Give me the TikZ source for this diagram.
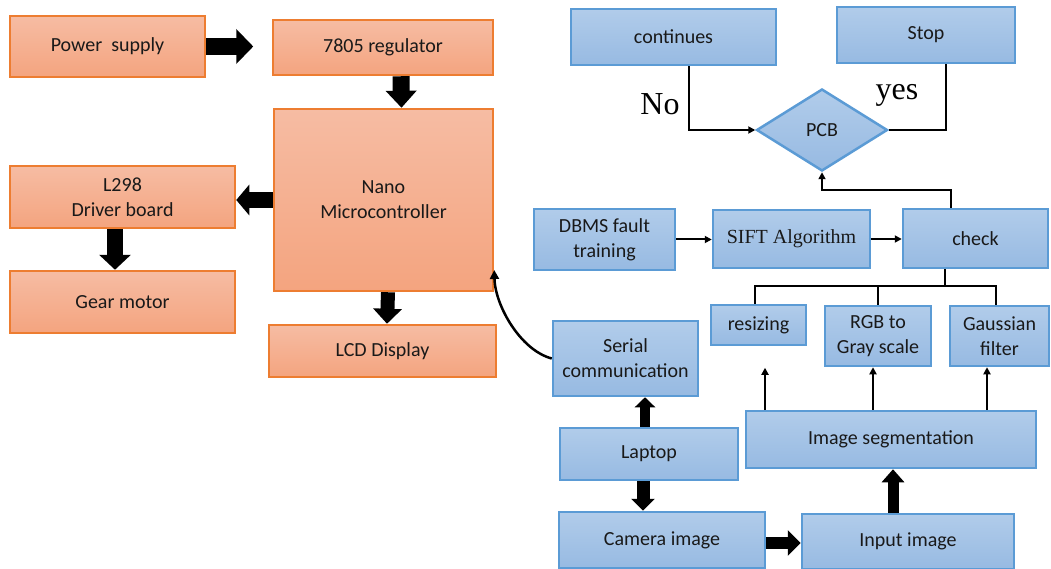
\documentclass[tikz,border=0pt]{standalone}
\usepackage{fontspec}
\setmainfont{Carlito}
\newfontfamily\tms{Liberation Serif}
\usetikzlibrary{arrows.meta,shapes.geometric,calc}
\definecolor{oborder}{HTML}{ED7D31}
\definecolor{otop}{HTML}{F6BCA3}
\definecolor{obot}{HTML}{F4A47F}
\definecolor{bborder}{HTML}{5B9BD5}
\definecolor{btop}{HTML}{B1CCEA}
\definecolor{bbot}{HTML}{97BAE2}
\tikzset{
  box/.style={rectangle, line width=2.5pt, inner sep=0pt, align=center,
    font=\fontsize{20}{25}\selectfont, text=black!90},
  obox/.style={box, draw=oborder, top color=otop, bottom color=obot},
  bbox/.style={box, draw=bborder, top color=btop, bottom color=bbot},
  arr/.style={line width=2pt, -{Triangle[length=7pt,width=7pt]}},
  ln/.style={line width=2pt},
  blk/.style n args={3}{line width=#1, -{Triangle[width=#2,length=#3]}},
}
\begin{document}
\begin{tikzpicture}[x=1pt,y=-1pt]
\fill[white] (0,0) rectangle (1051,569);
\useasboundingbox (0,0) rectangle (1051,569);
% orange blocks
\node[obox, minimum width=195, minimum height=61] (ps) at (107.5,46.5) {Power\ \ supply};
\node[obox, minimum width=220, minimum height=55] (reg) at (383,47.5) {7805 regulator};
\node[obox, minimum width=219, minimum height=182] (nano) at (383.5,200) {Nano\\Microcontroller};
\node[obox, minimum width=225, minimum height=62] (l298) at (122.5,197) {L298\\Driver board};
\node[obox, minimum width=225, minimum height=62] (gear) at (122.5,302) {Gear motor};
\node[obox, minimum width=227, minimum height=52] (lcd) at (382.5,351) {LCD Display};
% blue blocks
\node[bbox, minimum width=205, minimum height=56] (cont) at (673.5,37) {continues};
\node[bbox, minimum width=178, minimum height=56] (stop) at (926,35) {Stop};
\node[bbox, diamond, minimum width=131, minimum height=82] (pcb) at (822,130) {PCB};
\node[bbox, minimum width=141, minimum height=61] (dbms) at (604.5,239.5) {DBMS fault\\training};
\node[bbox, minimum width=157, minimum height=58, font=\tms\fontsize{20}{25}\selectfont] (sift) at (791.5,239) {SIFT Algorithm};
\node[bbox, minimum width=145, minimum height=59] (check) at (975.5,238.5) {check};
\node[bbox, minimum width=95, minimum height=40] (resz) at (758.5,325) {resizing};
\node[bbox, minimum width=106, minimum height=60] (rgb) at (878,336) {RGB to\\Gray scale};
\node[bbox, minimum width=99, minimum height=60] (gauss) at (999.5,336) {Gaussian\\filter};
\node[bbox, minimum width=145, minimum height=75] (serial) at (625.5,358.5) {Serial\\communication};
\node[bbox, minimum width=178, minimum height=52] (laptop) at (649,454) {Laptop};
\node[bbox, minimum width=206, minimum height=56] (camera) at (662,540) {Camera image};
\node[bbox, minimum width=212, minimum height=55] (input) at (908,541.5) {Input image};
\node[bbox, minimum width=290, minimum height=57] (seg) at (891,439.5) {Image segmentation};
% labels
\node[anchor=base, font=\tms\fontsize{32}{36}\selectfont] (no) at (660,115) {No};
\node[anchor=base, font=\tms\fontsize{32}{36}\selectfont] (yes) at (897,100) {yes};
% block arrows
\draw[blk={17pt}{34pt}{17pt}] (ps.east) -- ++(47,0);
\draw[blk={17pt}{30pt}{17pt}] ([xshift=18pt]reg.south) -- ([xshift=18pt]nano.north);
\draw[blk={16pt}{30pt}{13pt}] (nano.west) -- (nano.west -| l298.east);
\draw[blk={16pt}{31pt}{15pt}] ([xshift=-7.5pt]l298.south) -- ([xshift=-7.5pt]gear.north);
\draw[blk={14pt}{28pt}{15pt}] ([xshift=4.5pt]nano.south) -- ([xshift=4.5pt]lcd.north);
\draw[blk={10pt}{20pt}{10pt}] ([xshift=-4pt]laptop.north) -- ([xshift=-4pt]laptop.north |- serial.south);
\draw[blk={13pt}{23pt}{12pt}] ([xshift=-6pt]laptop.south) -- ([xshift=-6pt]laptop.south |- camera.north);
\draw[blk={12pt}{25pt}{13pt}] ([yshift=-3pt]camera.east) -- ([yshift=-3pt]camera.east -| input.west);
\draw[blk={11pt}{22pt}{13pt}] ([xshift=-15pt]input.north) -- ([xshift=-15pt]input.north |- seg.south);
% thin connectors
\draw[arr] ([xshift=15.5pt]cont.south) |- (pcb.west);
\draw[ln] ([xshift=20pt]stop.south) |- (pcb.east);
\draw[arr] ([xshift=-24.5pt]check.north) -- ++(0,-18) -| (pcb.south);
\draw[arr] (dbms.east) -- (dbms.east -| sift.west);
\draw[arr] (sift.east) -- (sift.east -| check.west);
\coordinate (tj) at ($(check.south)+(-30.5,17)$);
\draw[ln] ([xshift=-30.5pt]check.south) -- (tj);
\draw[ln] (tj) -| ([xshift=-3.5pt]resz.north);
\draw[ln] (tj) -| (rgb.north);
\draw[ln] (tj) -| ([xshift=-3.5pt]gauss.north);
\coordinate (rz) at ($(seg.north)+(-126,-42)$);
\draw[arr] ([xshift=-126pt]seg.north) -- (rz);
\draw[arr] ([xshift=-5pt]rgb.south |- seg.north) -- ([xshift=-5pt]rgb.south);
\draw[arr] ([xshift=-12.5pt]gauss.south |- seg.north) -- ([xshift=-12.5pt]gauss.south);
\draw[arr, line width=2.5pt, -{Triangle[length=9pt,width=9pt]}] (serial.west) .. controls (520,350) and (495,305) .. ([yshift=-70pt]nano.east);
\end{tikzpicture}
\end{document}
